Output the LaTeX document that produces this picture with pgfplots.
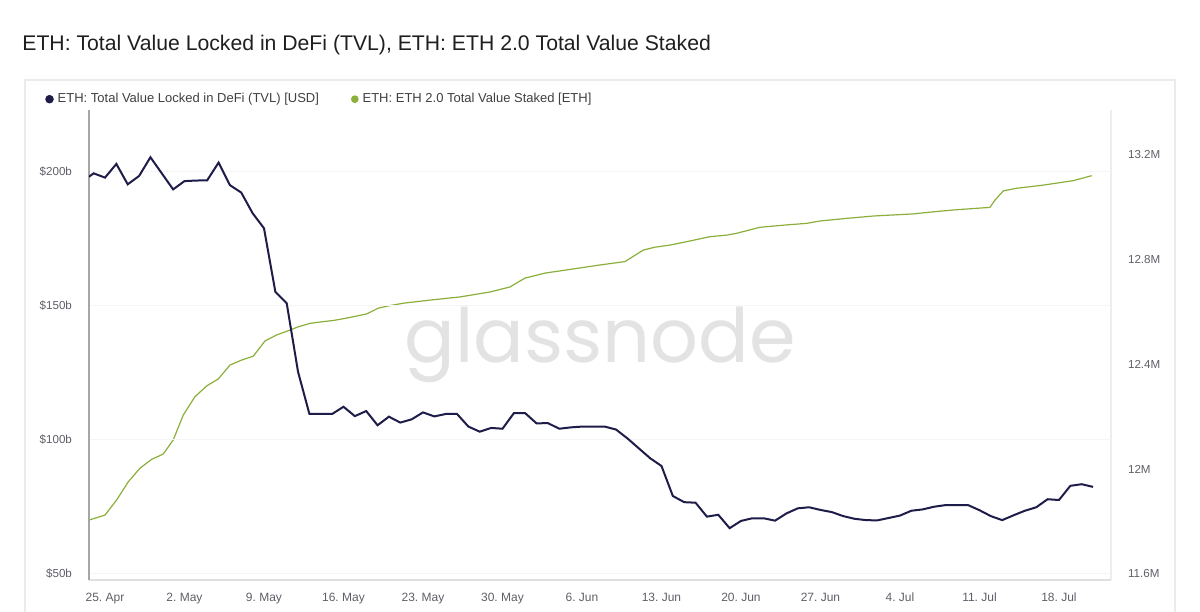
\documentclass[border=0pt]{standalone}
\usepackage{fontspec}
\setmainfont{Liberation Sans}
\newfontfamily\wmfont{Poppins}
\usepackage{pgfplots}
\usepackage{pgfplotstable}
\pgfplotsset{compat=1.18}
\definecolor{tvl}{RGB}{30,28,72}
\definecolor{stk}{RGB}{140,175,60}
\definecolor{ticktxt}{RGB}{95,95,105}

\pgfplotstableread{
day tvl
-1.41 198.2
-1 199.5
0 197.9
1 203.0
2 195.4
3 198.5
4 205.5
5 199.5
6 193.5
7 196.6
8 196.8
9 196.9
10 203.5
11 195.1
12 192.3
13 184.6
14 179.0
15 155.3
16 151.0
17 125.4
18 109.7
19 109.7
20 109.7
21 112.4
22 108.9
23 110.8
24 105.5
25 108.7
26 106.5
27 107.7
28 110.3
29 108.8
30 109.7
31 109.7
32 105.0
33 103.1
34 104.5
35 104.2
36 110.0
37 110.0
38 106.2
39 106.3
40 104.2
41 104.7
42 105.0
43 105.0
44 105.0
45 103.9
46 100.6
47 96.9
48 93.2
49 90.3
50 79.1
51 76.8
52 76.6
53 71.4
54 72.1
55 67.1
56 69.8
57 70.8
58 70.8
59 69.9
60 72.6
61 74.5
62 74.9
63 73.9
64 73.1
65 71.6
66 70.6
67 70.1
68 70.0
69 70.9
70 71.8
71 73.6
72 74.1
73 75.1
74 75.7
75 75.7
76 75.7
77 73.8
78 71.6
79 70.1
80 71.9
81 73.6
82 74.9
83 77.9
84 77.6
85 82.9
86 83.5
87 82.5
}\tvltable

\pgfplotstableread{
day stk
-1.41 11.806
0.00 11.825
1.03 11.883
2.05 11.952
3.08 12.004
4.11 12.038
5.13 12.058
6.01 12.112
6.89 12.207
7.92 12.277
8.95 12.318
9.98 12.345
11.01 12.398
12.04 12.417
13.06 12.432
14.09 12.490
15.12 12.513
16.14 12.529
17.02 12.544
18.05 12.557
19.08 12.563
20.10 12.568
21.13 12.576
22.16 12.585
23.04 12.593
24.06 12.615
25.09 12.625
26.27 12.634
28.62 12.646
31.26 12.658
33.90 12.677
35.66 12.696
36.98 12.730
38.74 12.749
40.94 12.763
43.58 12.780
45.79 12.793
47.40 12.837
48.43 12.848
49.75 12.856
51.22 12.869
53.27 12.888
54.74 12.894
55.62 12.901
57.67 12.924
60.02 12.933
61.79 12.939
62.96 12.948
65.31 12.958
67.65 12.967
71.17 12.975
72.93 12.983
74.69 12.990
77.92 13.000
78.37 13.028
79.10 13.063
80.28 13.073
82.62 13.085
85.26 13.102
86.88 13.121
}\stktable

\begin{document}
\frenchspacing
\begin{tikzpicture}
\fill[white] (0,0) rectangle (600pt,305.5pt);
\path[use as bounding box] (0,0) rectangle (600pt,305.5pt);
\draw[black!8, line width=0.6pt] (12.5pt,-2pt) -- (12.5pt,265.5pt) -- (587.5pt,265.5pt) -- (587.5pt,-2pt);
\node[anchor=base west, inner sep=0, font=\fontsize{10.6}{12}\selectfont, text=black!88] at (11pt,280pt) {ETH: Total Value Locked in DeFi (TVL), ETH: ETH 2.0 Total Value Staked};
\node[font=\wmfont\fontsize{37.5}{42}\selectfont, text=black!11] at (300pt,133pt) {glassnode};

% right axis: ETH 2.0 staked
\begin{axis}[
  at={(44.5pt,15.5pt)}, anchor=south west, scale only axis,
  width=511pt, height=235pt,
  xmin=-1.409, xmax=88.58, ymin=11.5771, ymax=13.3718,
  axis y line*=right, axis x line=none,
  y axis line style={black!7, line width=0.6pt},
  major tick length=0pt,
  ytick={11.6,12,12.4,12.8,13.2},
  yticklabels={11.6M,12M,12.4M,12.8M,13.2M},
  yticklabel style={font=\fontsize{5.8}{7}\selectfont, text=ticktxt, anchor=west, xshift=5pt},
  clip=true,
]
\addplot[stk, line width=0.6pt] table[x=day,y=stk] {\stktable};
\end{axis}

% left axis: TVL
\begin{axis}[
  at={(44.5pt,15.5pt)}, anchor=south west, scale only axis,
  width=511pt, height=235pt,
  xmin=-1.409, xmax=88.58, ymin=47.76, ymax=223.13,
  axis x line*=bottom, axis y line*=left,
  x axis line style={black!12, line width=0.6pt},
  y axis line style={black!35, line width=0.7pt},
  major tick length=0pt,
  ytick={50,100,150,200},
  yticklabels={\$50b,\$100b,\$150b,\$200b},
  yticklabel style={font=\fontsize{5.8}{7}\selectfont, text=ticktxt, anchor=east, xshift=-5pt},
  xtick={0,7,...,84},
  xticklabels={25. Apr,2. May,9. May,16. May,23. May,30. May,6. Jun,13. Jun,20. Jun,27. Jun,4. Jul,11. Jul,18. Jul},
  xticklabel style={font=\fontsize{6}{7}\selectfont, text=ticktxt, anchor=north, yshift=-3pt},
  ymajorgrids, grid style={black!4, line width=0.5pt},
  legend columns=2,
  legend style={draw=none, fill=none, at={(-0.049,1.023)}, anchor=west,
    font=\fontsize{6.5}{7.5}\selectfont, text=black!75, /tikz/every even column/.append style={column sep=14pt}},
  legend image code/.code={\fill (0pt,0pt) circle (1.6pt);},
  clip=true,
]
\addplot[tvl, line width=1.0pt] table[x=day,y=tvl] {\tvltable};
\addlegendentry{ETH: Total Value Locked in DeFi (TVL) [USD]}
\addlegendimage{stk, line width=0.6pt}
\addlegendentry{ETH: ETH 2.0 Total Value Staked [ETH]}
\end{axis}
\end{tikzpicture}
\end{document}
